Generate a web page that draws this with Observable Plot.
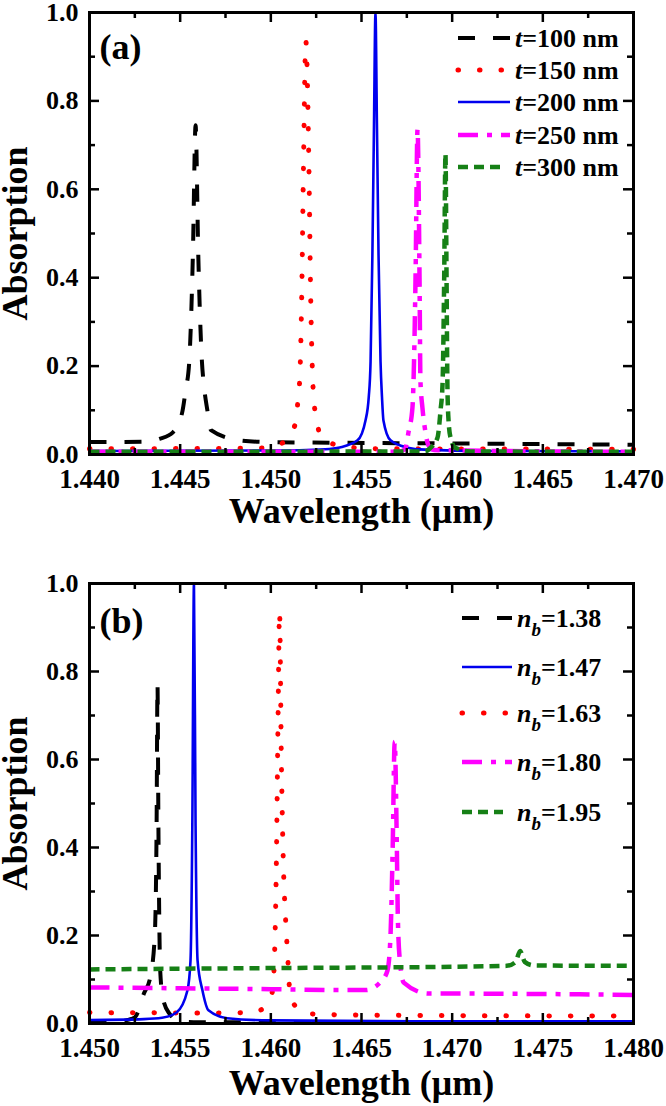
<!DOCTYPE html>
<html><head><meta charset="utf-8">
<script src="https://cdn.jsdelivr.net/npm/d3@7"></script>
<script src="https://cdn.jsdelivr.net/npm/@observablehq/plot@0.6"></script>
<style>
html,body{margin:0;padding:0;background:#fff;}
#root{position:relative;width:666px;height:1106px;font-family:'Liberation Serif',serif;}
.panel{position:relative;width:666px;height:553px;}
.panel svg{font-family:'Liberation Serif',serif;}
.panel svg.legend{position:absolute;left:0;top:0;}
</style></head><body><div id="root"></div>
<script>
// ---------- Panel (a): thickness t ----------
const xTicksA = [1.440, 1.445, 1.450, 1.455, 1.460, 1.465, 1.470];
const xMinorA = [1.4425, 1.4475, 1.4525, 1.4575, 1.4625, 1.4675];
const labelsA = ["=100 nm", "=150 nm", "=200 nm", "=250 nm", "=300 nm"];

const t100_wl = [1.4400,1.4429,1.4439,1.4446,1.4451,1.4453,1.4455,1.4457,1.44585,1.4460,1.4462,1.4463,1.4465,1.4467,1.4483,1.4500,1.4600,1.4700];
const t100_ab = [0.028,0.029,0.036,0.050,0.093,0.145,0.210,0.450,0.745,0.450,0.210,0.160,0.100,0.055,0.032,0.028,0.025,0.022];

const t150_wl = [1.4400,1.4485,1.4497,1.4508,1.4514,1.4515,1.4516,1.4517,1.4518,1.45193,1.4521,1.4522,1.4523,1.45235,1.4525,1.4528,1.4540,1.4560,1.4700];
const t150_ab = [0.013,0.014,0.015,0.030,0.077,0.127,0.176,0.350,0.650,0.935,0.650,0.350,0.180,0.135,0.084,0.040,0.018,0.013,0.012];

const t200_wl = [1.4400,1.4500,1.4530,1.4538,1.45478,1.45522,1.4554,1.4555,1.4556,1.45569,1.45577,1.45585,1.45594,1.45605,1.45613,1.45621,1.4566,1.4575,1.4585,1.4620,1.4700];
const t200_ab = [0.008,0.009,0.012,0.016,0.032,0.077,0.130,0.210,0.450,0.750,1.000,0.750,0.450,0.210,0.130,0.077,0.032,0.016,0.011,0.008,0.007];

const t250_wl = [1.4400,1.4570,1.4574,1.45759,1.45781,1.45787,1.45798,1.45809,1.4582,1.45825,1.45836,1.45853,1.45870,1.4590,1.4700];
const t250_ab = [0.006,0.006,0.012,0.050,0.106,0.167,0.400,0.735,0.400,0.167,0.106,0.050,0.020,0.010,0.006];

const t300_wl = [1.4400,1.4585,1.4588,1.45919,1.45936,1.45947,1.45956,1.45963,1.45969,1.45974,1.45980,1.45991,1.46018,1.4610,1.4700];
const t300_ab = [0.006,0.007,0.015,0.038,0.100,0.160,0.400,0.680,0.400,0.150,0.077,0.038,0.015,0.007,0.006];

// ---------- Panel (b): background index n_b ----------
const xTicksB = [1.450, 1.455, 1.460, 1.465, 1.470, 1.475, 1.480];
const xMinorB = [1.4525, 1.4575, 1.4625, 1.4675, 1.4725, 1.4775];
const labelsB = ["=1.38", "=1.47", "=1.63", "=1.80", "=1.95"];

const n138_wl = [1.4500,1.4515,1.4520,1.4525,1.4530,1.45335,1.4536,1.4537,1.45375,1.4538,1.4539,1.45405,1.4544,1.4550,1.4560,1.4800];
const n138_ab = [0.003,0.003,0.007,0.014,0.068,0.105,0.200,0.450,0.770,0.450,0.120,0.057,0.023,0.005,0.003,0.002];

const n147_wl = [1.4500,1.4530,1.4540,1.4548,1.4554,1.45557,1.45567,1.45576,1.45585,1.45596,1.45623,1.45656,1.4576,1.4600,1.4700,1.4800];
const n147_ab = [0.008,0.010,0.013,0.025,0.075,0.143,0.450,1.000,0.450,0.143,0.075,0.030,0.012,0.007,0.005,0.005];

const n163_wl = [1.4500,1.4560,1.4590,1.4596,1.46007,1.4602,1.4603,1.4604,1.46048,1.46058,1.46070,1.46081,1.46092,1.46108,1.4618,1.4630,1.4700,1.4800];
const n163_ab = [0.025,0.024,0.025,0.035,0.070,0.150,0.350,0.700,0.935,0.600,0.350,0.240,0.160,0.060,0.025,0.020,0.018,0.017];

const n180_wl = [1.4500,1.4550,1.4600,1.4640,1.46522,1.4660,1.46643,1.4666,1.46672,1.46683,1.46695,1.4670,1.46710,1.46733,1.4687,1.4700,1.4750,1.4800];
const n180_ab = [0.082,0.080,0.078,0.076,0.076,0.092,0.120,0.200,0.400,0.640,0.400,0.250,0.150,0.093,0.068,0.068,0.067,0.065];

const n195_wl = [1.4500,1.4600,1.4700,1.4730,1.4735,1.47375,1.4739,1.4740,1.4745,1.4800];
const n195_ab = [0.123,0.126,0.129,0.131,0.140,0.165,0.150,0.140,0.132,0.131];

const yTicks = [0, 0.2, 0.4, 0.6, 0.8, 1.0];
const yMinor = [0.1, 0.3, 0.5, 0.7, 0.9];

// ---------- styles ----------
const FONT = "Liberation Serif";
const STY = {
  black:   {color:"#000000", width:4,   dash:"17,18",    cap:"butt"},
  red:     {color:"#ff0000", width:5,   dash:"0.5,21",   cap:"round"},
  blue:    {color:"#0000ee", width:2.6, dash:null,       cap:"butt"},
  magenta: {color:"#ff00ff", width:4.5, dash:"20,9,5,9", cap:"butt"},
  green:   {color:"#168016", width:4.5, dash:"10,6",     cap:"butt"}
};
const rows = (wl, ab) => wl.map((w, i) => ({wl: w, ab: ab[i]}));

const W = 666, ML = 89, MR = 33;

function makePanel(cfg) {
  const frameH = cfg.height - cfg.marginTop - cfg.marginBottom;
  const frameW = W - ML - MR;
  const marks = [];
  for (const s of cfg.series) {
    const st = STY[s.style];
    marks.push(Plot.line(rows(s.wl, s.ab), {
      x: "wl", y: "ab", stroke: st.color, strokeWidth: st.width,
      strokeDasharray: st.dash, strokeLinecap: st.cap, strokeLinejoin: "round",
      curve: "monotone-x"
    }));
  }
  const tk = {stroke: "#000", strokeWidth: 2.5};
  const txt = {fontFamily: FONT, fontWeight: "bold", fill: "#000"};
  marks.push(
    Plot.tickX(cfg.xTicks, {x: d => d, insetTop: frameH - 10, ...tk}),
    Plot.tickX(cfg.xTicks, {x: d => d, insetBottom: frameH - 10, ...tk}),
    Plot.tickX(cfg.xMinor, {x: d => d, insetTop: frameH - 6, ...tk}),
    Plot.tickX(cfg.xMinor, {x: d => d, insetBottom: frameH - 6, ...tk}),
    Plot.tickY(yTicks, {y: d => d, insetRight: frameW - 10, ...tk}),
    Plot.tickY(yTicks, {y: d => d, insetLeft: frameW - 10, ...tk}),
    Plot.tickY(yMinor, {y: d => d, insetRight: frameW - 6, ...tk}),
    Plot.tickY(yMinor, {y: d => d, insetLeft: frameW - 6, ...tk}),
    Plot.frame({stroke: "#000", strokeWidth: 3}),
    Plot.axisX(cfg.xTicks, {tickFormat: d3.format(".3f"), tickSize: 0, tickPadding: 14,
      fontSize: 27, label: null, ...txt}),
    Plot.axisY(yTicks, {tickFormat: d3.format(".1f"), tickSize: 0, tickPadding: 11,
      fontSize: 26, label: null, ...txt}),
    Plot.text(["Wavelength (μm)"], {text: d => d, frameAnchor: "bottom", dy: cfg.labelDy,
      textAnchor: "middle", lineAnchor: "middle", fontSize: 36, ...txt}),
    Plot.text(["Absorption"], {text: d => d, frameAnchor: "left", dx: -74, rotate: -90,
      textAnchor: "middle", lineAnchor: "middle", fontSize: 36, ...txt}),
    Plot.text([cfg.tag], {text: d => d, frameAnchor: "top-left", dx: 10, dy: cfg.tagDy,
      textAnchor: "start", lineAnchor: "middle", fontSize: 36, ...txt})
  );
  return Plot.plot({
    width: W, height: cfg.height,
    marginTop: cfg.marginTop, marginBottom: cfg.marginBottom,
    marginLeft: ML, marginRight: MR,
    x: {domain: cfg.xDomain}, y: {domain: [0, 1]},
    style: {fontFamily: FONT, background: "#fff", color: "#000", overflow: "visible"},
    marks
  });
}

function addLegend(container, leg) {
  const svg = d3.select(container).append("svg").attr("class", "legend")
    .attr("width", W).attr("height", 553).style("overflow", "visible");
  leg.items.forEach((it, i) => {
    const st = STY[it.style];
    const y = leg.ys[i];
    svg.append("line").attr("x1", leg.x1).attr("x2", it.style === "green" ? leg.x2g : leg.x2)
      .attr("y1", y).attr("y2", y)
      .attr("stroke", st.color).attr("stroke-width", st.width)
      .attr("stroke-dasharray", st.dash).attr("stroke-linecap", st.cap);
    const t = svg.append("text").attr("x", leg.tx).attr("y", y + 9)
      .attr("font-family", FONT).attr("font-size", 26).attr("font-weight", "bold").attr("fill", "#000");
    if (leg.kind === "t") {
      t.append("tspan").attr("font-style", "italic").text("t");
      t.append("tspan").text(it.label);
    } else {
      t.append("tspan").attr("font-style", "italic").text("n");
      t.append("tspan").attr("font-style", "italic").attr("font-size", 19).attr("dy", 9).text("b");
      t.append("tspan").attr("dy", -9).text(it.label);
    }
  });
}

const root = document.getElementById("root");

// Panel (a)
const pa = document.createElement("div"); pa.className = "panel"; root.appendChild(pa);
pa.appendChild(makePanel({
  height: 553, marginTop: 12, marginBottom: 99,
  xDomain: [1.440, 1.470], xTicks: xTicksA, xMinor: xMinorA,
  labelDy: 57, tag: "(a)", tagDy: 35,
  series: [
    {wl: t100_wl, ab: t100_ab, style: "black"},
    {wl: t150_wl, ab: t150_ab, style: "red"},
    {wl: t200_wl, ab: t200_ab, style: "blue"},
    {wl: t250_wl, ab: t250_ab, style: "magenta"},
    {wl: t300_wl, ab: t300_ab, style: "green"}
  ]
}));
addLegend(pa, {
  kind: "t", x1: 458, x2: 510, x2g: 500, tx: 515, ys: [38, 70, 102, 135, 167],
  items: [
    {style: "black", label: labelsA[0]},
    {style: "red", label: labelsA[1]},
    {style: "blue", label: labelsA[2]},
    {style: "magenta", label: labelsA[3]},
    {style: "green", label: labelsA[4]}
  ]
});

// Panel (b)
const pb = document.createElement("div"); pb.className = "panel"; root.appendChild(pb);
pb.appendChild(makePanel({
  height: 553, marginTop: 30, marginBottom: 83,
  xDomain: [1.450, 1.480], xTicks: xTicksB, xMinor: xMinorB,
  labelDy: 60, tag: "(b)", tagDy: 38,
  series: [
    {wl: n138_wl, ab: n138_ab, style: "black"},
    {wl: n163_wl, ab: n163_ab, style: "red"},
    {wl: n147_wl, ab: n147_ab, style: "blue"},
    {wl: n180_wl, ab: n180_ab, style: "magenta"},
    {wl: n195_wl, ab: n195_ab, style: "green"}
  ]
}));
addLegend(pb, {
  kind: "n", x1: 462, x2: 512, x2g: 503, tx: 517, ys: [65, 114, 160, 209, 259],
  items: [
    {style: "black", label: labelsB[0]},
    {style: "blue", label: labelsB[1]},
    {style: "red", label: labelsB[2]},
    {style: "magenta", label: labelsB[3]},
    {style: "green", label: labelsB[4]}
  ]
});
</script>
</body></html>
